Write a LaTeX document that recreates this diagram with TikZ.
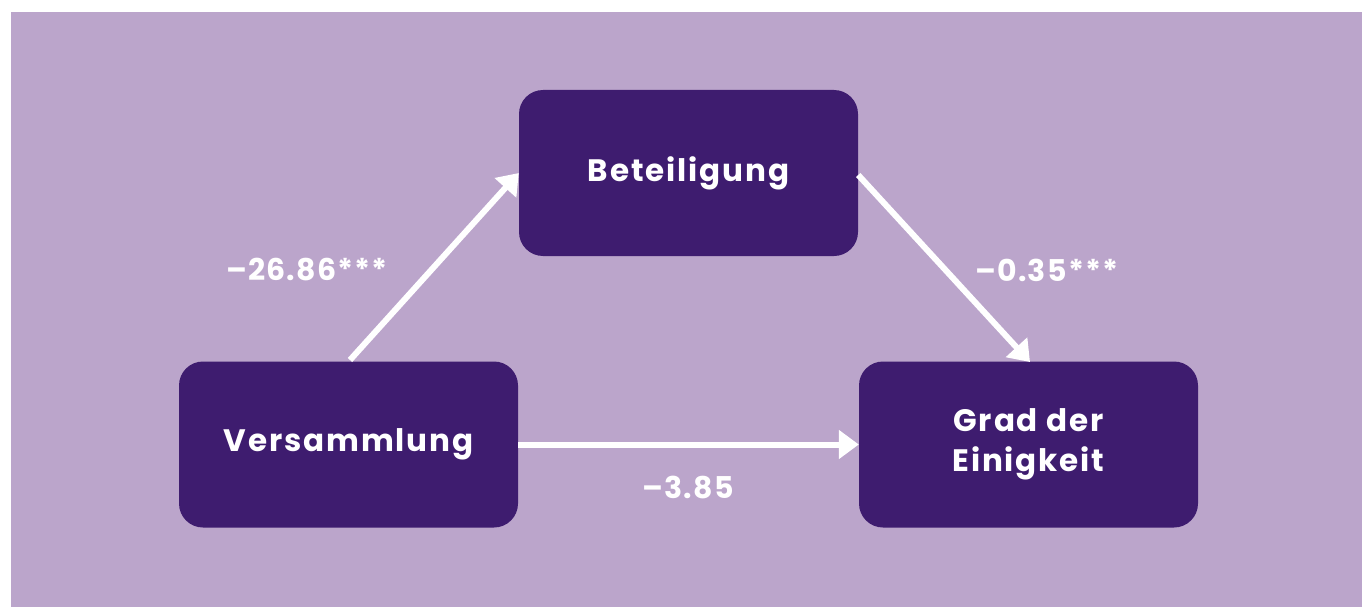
\documentclass[tikz,border=0pt]{standalone}
\usepackage{fontspec}
\setmainfont{Poppins}
\usetikzlibrary{arrows.meta}
\definecolor{bgpurple}{HTML}{BBA5CB}
\definecolor{boxpurple}{HTML}{3E1C6F}
\tikzset{
  box/.style={fill=boxpurple, rounded corners=24pt, minimum width=339pt, minimum height=166pt, inner sep=0pt, align=center, text=white, font=\fontsize{31}{40}\selectfont\bfseries\addfontfeatures{LetterSpace=6}},
  conn/.style={draw=white, line width=6pt, -{Triangle[length=20pt,width=28pt]}},
  coef/.style={text=white, font=\fontsize{30}{36}\selectfont\bfseries\addfontfeatures{LetterSpace=4}}
}
\begin{document}
\begin{tikzpicture}[x=1pt,y=-1pt]
\useasboundingbox (0,0) rectangle (1362,607);
\fill[white] (0,0) rectangle (1362,607);
\fill[bgpurple] (11,12) rectangle (1362,607);
\node[box] (bet) at (688.5,173) {Beteiligung};
\node[box] (ver) at (348.5,444.5) {Versammlung};
\node[box] (grad) at (1028.5,444.5) {Grad der\\Einigkeit};
\coordinate (a1s) at (350,360);
\coordinate (a2e) at (1030,362);
\path[conn] (a1s) -- (bet.west |- 0,173);
\path[conn] (bet.east |- 0,175) -- (a2e);
\path[conn] (ver.east) -- (grad.west);
\node[coef] (c1) at (307,270) {–26.86***};
\node[coef] (c2) at (1047,270) {–0.35***};
\node[coef] (c3) at (688,487) {–3.85};
\end{tikzpicture}
\end{document}
